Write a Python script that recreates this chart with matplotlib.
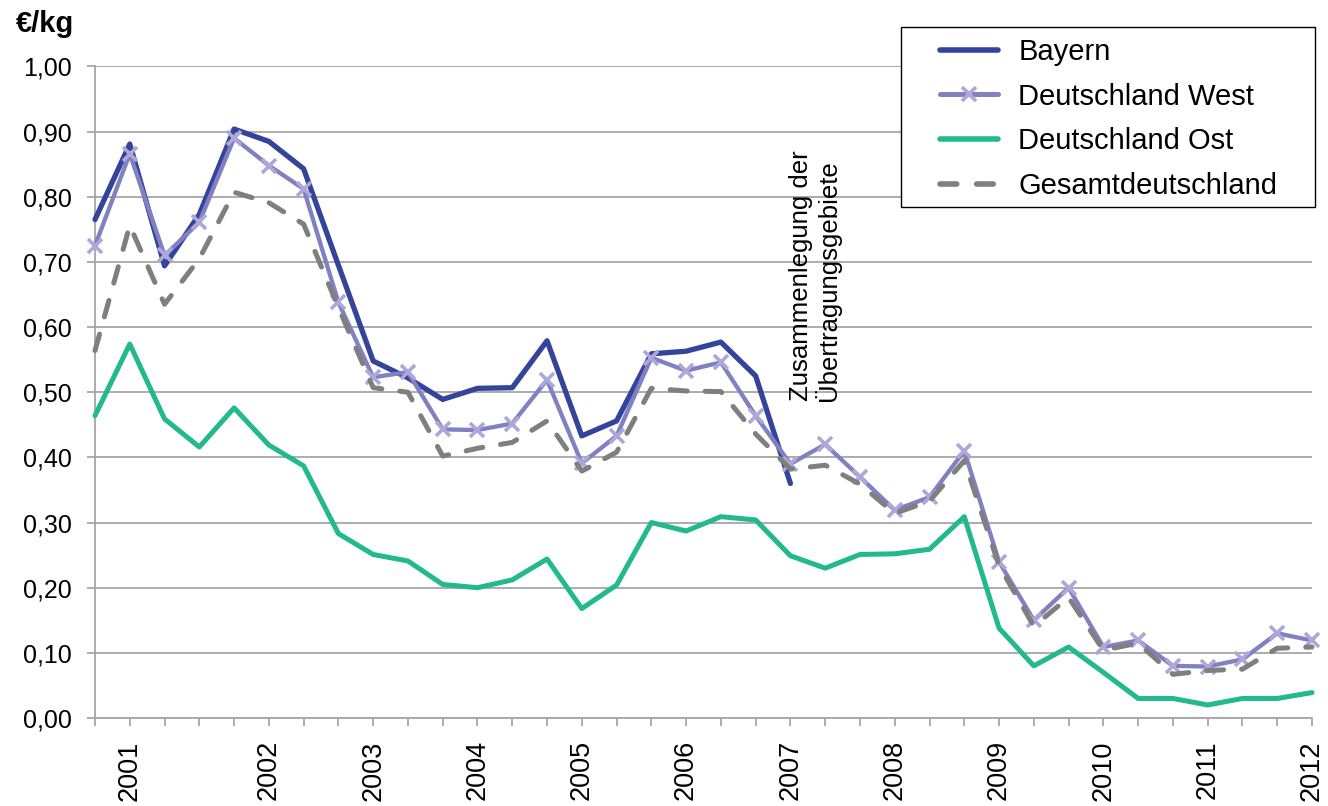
import matplotlib
matplotlib.use("Agg")
import matplotlib.pyplot as plt
from matplotlib.patches import Rectangle
from matplotlib.lines import Line2D
import numpy as np

plt.rcParams['font.family'] = ['Liberation Sans', 'DejaVu Sans']

# category labels (one per data point, year label shown at selected points)
categories = ['', '2001', '', '', '', '2002', '', '', '2003', '', '', '2004',
              '', '', '2005', '', '', '2006', '', '', '2007', '', '', '2008',
              '', '', '2009', '', '', '2010', '', '', '2011', '', '', '2012']

bayern = [0.765, 0.881, 0.694, 0.773, 0.904, 0.885, 0.843, 0.695, 0.548, 0.522,
          0.489, 0.506, 0.507, 0.579, 0.433, 0.456, 0.559, 0.563, 0.577, 0.525,
          0.360]

west = [0.725, 0.866, 0.710, 0.761, 0.890, 0.848, 0.812, 0.638, 0.523, 0.531,
        0.443, 0.442, 0.452, 0.519, 0.391, 0.433, 0.553, 0.533, 0.546, 0.464,
        0.390, 0.420, 0.370, 0.319, 0.339, 0.410, 0.240, 0.150, 0.200, 0.109,
        0.119, 0.080, 0.079, 0.090, 0.130, 0.119]

ost = [0.464, 0.574, 0.459, 0.416, 0.476, 0.419, 0.387, 0.283, 0.251, 0.241,
       0.205, 0.200, 0.212, 0.244, 0.168, 0.204, 0.300, 0.287, 0.309, 0.304,
       0.249, 0.230, 0.251, 0.252, 0.259, 0.309, 0.138, 0.080, 0.109, 0.070,
       0.030, 0.030, 0.020, 0.030, 0.030, 0.039]

gesamt = [0.564, 0.756, 0.635, 0.705, 0.807, 0.791, 0.758, 0.630, 0.507, 0.500,
          0.402, 0.414, 0.423, 0.456, 0.379, 0.408, 0.506, 0.502, 0.501, 0.436,
          0.382, 0.388, 0.359, 0.314, 0.333, 0.395, 0.234, 0.141, 0.185, 0.104,
          0.115, 0.067, 0.073, 0.075, 0.107, 0.109]

series_names = ['Bayern', 'Deutschland West', 'Deutschland Ost', 'Gesamtdeutschland']
y_ticks = [0.0, 0.1, 0.2, 0.3, 0.4, 0.5, 0.6, 0.7, 0.8, 0.9, 1.0]

c_bayern = '#34449A'
c_west = '#8181C2'
c_west_marker = '#ADA8D9'
c_ost = '#22B98C'
c_gesamt = '#7F7F7F'
grid_c = '#A6A6A6'

W, H = 1328, 806
fig = plt.figure(figsize=(W / 100, H / 100), dpi=100)
ax = fig.add_axes([95 / W, 1 - 718 / H, (1312 - 95) / W, (718 - 66.5) / H])

x_all = np.arange(len(categories))

l1, = ax.plot(x_all[:len(bayern)], bayern, color=c_bayern, lw=3.8,
              solid_joinstyle='round', solid_capstyle='round', clip_on=False, zorder=3)
l2, = ax.plot(x_all, west, color=c_west, lw=3.1, marker='x', markersize=10,
              markeredgewidth=2.6, markeredgecolor=c_west_marker,
              solid_joinstyle='round', solid_capstyle='round', clip_on=False, zorder=4)
l3, = ax.plot(x_all, ost, color=c_ost, lw=3.6, solid_joinstyle='round',
              solid_capstyle='round', clip_on=False, zorder=5)
l4, = ax.plot(x_all, gesamt, color=c_gesamt, lw=3.6, dashes=(3.4, 3.6),
              dash_capstyle='round', dash_joinstyle='round', clip_on=False, zorder=6)

ax.set_xlim(0, len(categories) - 1)
ax.set_ylim(0, 1.0)
ax.set_yticks(y_ticks)
ax.set_yticklabels([f"{v:.2f}".replace('.', ',') for v in y_ticks], fontsize=18)
ax.set_xticks(x_all)
ax.set_xticklabels(categories, rotation=90, fontsize=19.5, va='top', ha='center')

ax.yaxis.grid(True, color=grid_c, lw=1.3, zorder=0)
ax.set_axisbelow(True)
for s in ['top', 'right']:
    ax.spines[s].set_visible(False)
for s in ['left', 'bottom']:
    ax.spines[s].set_color(grid_c)
    ax.spines[s].set_linewidth(1.3)
ax.tick_params(axis='both', colors=grid_c, width=1.3, length=6, direction='out',
               labelcolor='black')
ax.tick_params(axis='y', pad=11)
ax.tick_params(axis='x', pad=10)

# unit label
fig.text(16 / W, 1 - 32 / H, '€/kg', fontsize=21, fontweight='bold',
         ha='left', va='baseline')

# annotation
ax.text(0.5915, 0.486, 'Zusammenlegung der\nÜbertragungsgebiete', transform=ax.transAxes,
        rotation=90, ha='center', va='bottom', multialignment='left', fontsize=18.5,
        linespacing=1.05, zorder=7)

# legend frame
fig.patches.append(Rectangle((901 / W, 1 - 207 / H), (1315 - 901) / W, 180 / H,
                             transform=fig.transFigure, facecolor='white',
                             edgecolor='black', lw=1.0, zorder=8))
h2 = Line2D([], [], color=c_west, lw=3.6, marker='x', markersize=10,
            markeredgewidth=2.6, markeredgecolor=c_west_marker, solid_capstyle='round')
h1 = Line2D([], [], color=c_bayern, lw=4.0, solid_capstyle='round')
h3 = Line2D([], [], color=c_ost, lw=4.0, solid_capstyle='round')
h4 = Line2D([], [], color=c_gesamt, lw=4.0, dashes=(3.0, 3.6), dash_capstyle='round')
leg = fig.legend([h1, h2, h3, h4], series_names, loc='upper left',
                 bbox_to_anchor=(940 / W, 1 - 38 / H), frameon=False, fontsize=21,
                 handlelength=2.0, handletextpad=0.68, labelspacing=0.57,
                 borderpad=0, borderaxespad=0)
leg.set_zorder(9)

fig.savefig('out.png', dpi=100)
